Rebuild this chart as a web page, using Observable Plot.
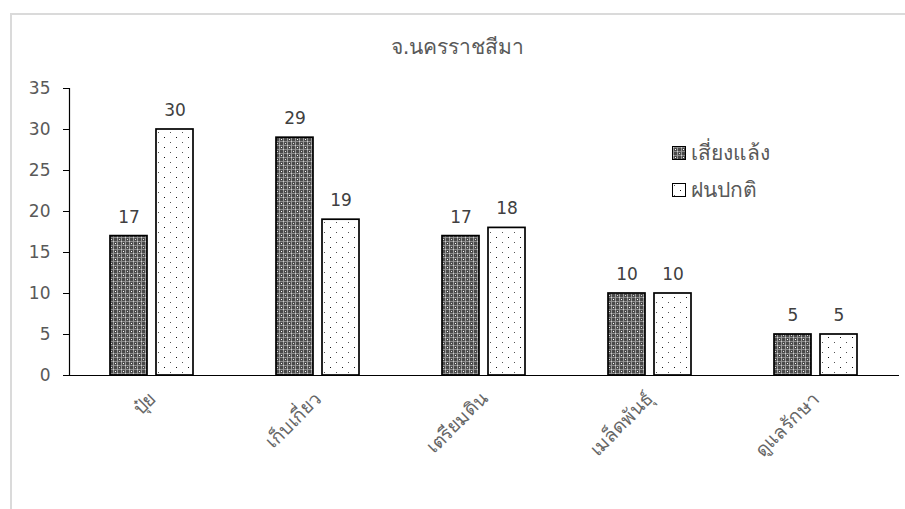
<!DOCTYPE html>
<html>
<head>
<meta charset="utf-8">
<script src="https://cdn.jsdelivr.net/npm/d3@7"></script>
<script src="https://cdn.jsdelivr.net/npm/@observablehq/plot@0.6"></script>
<style>
  body { margin: 0; background: #fff; }
  #wrap { position: relative; width: 905px; height: 509px; overflow: hidden; font-family: "DejaVu Sans", sans-serif; }
  #border { position: absolute; left: 10px; top: 13px; width: 1000px; height: 600px; border-left: 2px solid #dadada; border-top: 2px solid #dadada; }
  #title { position: absolute; left: 10px; width: 895px; top: 30px; text-align: center; font-size: 21px; color: #595959; }
  #chart { position: absolute; left: 0; top: 0; }
  .legend-item { position: absolute; left: 672px; display: flex; align-items: center; font-size: 21px; color: #595959; }
  .legend-item svg { margin-right: 5px; }
</style>
</head>
<body>
<div id="wrap">
  <div id="border"></div>
  <div id="chart"></div>
  <div id="title">จ.นครราชสีมา</div>
  <div id="legend"></div>
</div>
<script>
// Activities and survey counts per rainfall group
const categories = ["ปุ๋ย", "เก็บเกี่ยว", "เตรียมดิน", "เมล็ดพันธุ์", "ดูแลรักษา"];
const seriesNames = ["เสี่ยงแล้ง", "ฝนปกติ"];
const droughtRisk = [17, 29, 17, 10, 5];
const normalRain = [30, 19, 18, 10, 5];
const yTicks = [0, 5, 10, 15, 20, 25, 30, 35];

const patternIds = {"เสี่ยงแล้ง": "pat-dark", "ฝนปกติ": "pat-dots"};

const rows = [];
categories.forEach((c, i) => {
  rows.push({category: c, series: seriesNames[0], value: droughtRisk[i]});
  rows.push({category: c, series: seriesNames[1], value: normalRain[i]});
});

const barOpts = s => ({
  fx: "category", x: "series", y: "value",
  fill: `url(#${patternIds[s]})`, stroke: "#000", strokeWidth: 1.7
});

const plot = Plot.plot({
  width: 905,
  height: 509,
  marginLeft: 69,
  marginRight: 6,
  marginTop: 88,
  marginBottom: 134,
  style: {fontFamily: "DejaVu Sans, sans-serif", background: "transparent", overflow: "visible"},
  fx: {domain: categories, paddingInner: 0, paddingOuter: 0, label: null},
  x: {domain: seriesNames, paddingInner: 0.19, paddingOuter: 0.862, axis: null},
  y: {domain: [0, 35], label: null},
  marks: [
    Plot.axisY({ticks: yTicks, tickSize: 6, tickPadding: 13, fontSize: 17, fill: "#595959", stroke: "#000", label: null}),
    Plot.axisFx({anchor: "bottom", tickRotate: -45, tickSize: 0, tickPadding: 20, fontSize: 19, fill: "#666", label: null}),
    Plot.frame({anchor: "left", facetAnchor: "left", stroke: "#000", strokeWidth: 1.2}),
    Plot.barY(rows.filter(d => d.series === seriesNames[0]), barOpts(seriesNames[0])),
    Plot.barY(rows.filter(d => d.series === seriesNames[1]), barOpts(seriesNames[1])),
    Plot.ruleY([0], {stroke: "#000", strokeWidth: 1.2}),
    Plot.text(rows, {fx: "category", x: "series", y: "value", text: d => String(d.value),
      dy: -19, fontSize: 17, fill: "#404040"})
  ]
});

// Fill patterns used by the bars and legend swatches
const patternDefs = `
  <pattern id="pat-dark" width="8" height="8" patternUnits="userSpaceOnUse">
    <rect width="8" height="8" fill="#4a4a4a"/>
    <rect x="0" y="1" width="8" height="1" fill="#8a8a8a"/>
    <rect x="0" y="5" width="8" height="1" fill="#8a8a8a"/>
    <rect x="1" y="0" width="1" height="8" fill="#9a9a9a"/>
    <rect x="5" y="0" width="1" height="8" fill="#9a9a9a"/>
    <rect x="3" y="3" width="1" height="1" fill="#ffffff"/>
    <rect x="7" y="7" width="1" height="1" fill="#dddddd"/>
    <rect x="1" y="1" width="1" height="1" fill="#cfcfcf"/>
    <rect x="5" y="5" width="1" height="1" fill="#cfcfcf"/>
  </pattern>
  <pattern id="pat-dots" width="12" height="10" patternUnits="userSpaceOnUse">
    <rect width="12" height="10" fill="#ffffff"/>
    <rect x="2" y="2" width="1" height="1" fill="#555"/>
    <rect x="8" y="7" width="1" height="1" fill="#111"/>
  </pattern>`;
const defs = document.createElementNS("http://www.w3.org/2000/svg", "defs");
defs.innerHTML = patternDefs;
plot.insertBefore(defs, plot.firstChild);
document.getElementById("chart").appendChild(plot);

// Legend
const legend = document.getElementById("legend");
const legendTops = [136, 173];
seriesNames.forEach((s, i) => {
  const item = document.createElement("div");
  item.className = "legend-item";
  item.style.top = legendTops[i] + "px";
  item.innerHTML = `<svg width="14" height="14"><defs>${patternDefs.replace(/id="pat-/g, 'id="lg' + i + '-')}</defs>
    <rect x="0.5" y="0.5" width="13" height="13" fill="url(#lg${i}-${patternIds[s].slice(4)})" stroke="#000" stroke-width="1"/></svg><span>${s}</span>`;
  legend.appendChild(item);
});
</script>
</body>
</html>
